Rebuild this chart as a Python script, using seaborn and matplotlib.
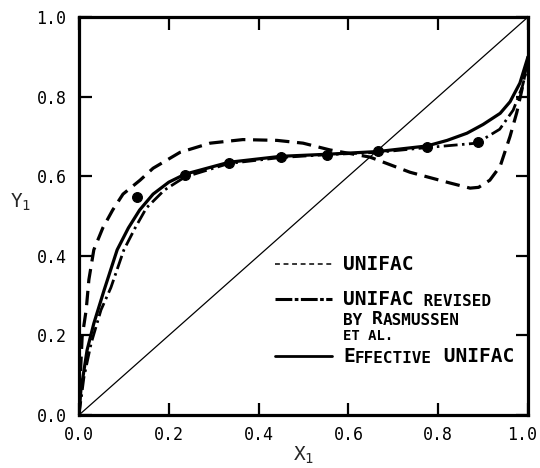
import matplotlib
matplotlib.use("Agg")
import matplotlib.pyplot as plt
from matplotlib.lines import Line2D
from matplotlib.transforms import ScaledTranslation
import seaborn as sns

# ---- data ----
diag_x = [0.0, 1.0]
diag_y = [0.0, 1.0]

unifac_x = [0.0, 0.003, 0.007, 0.016, 0.022, 0.033, 0.053, 0.075, 0.098, 0.136, 0.165,
            0.225, 0.292, 0.365, 0.441, 0.499, 0.559, 0.648, 0.737, 0.826, 0.871,
            0.89, 0.915, 0.938, 0.96, 0.975, 0.987, 1.0]
unifac_y = [0.0, 0.10, 0.196, 0.264, 0.34, 0.415, 0.47, 0.515, 0.555, 0.59, 0.62,
            0.66, 0.683, 0.692, 0.69, 0.683, 0.666, 0.648, 0.61, 0.583, 0.57,
            0.572, 0.59, 0.625, 0.70, 0.76, 0.82, 0.90]

rasm_x = [0.0, 0.011, 0.027, 0.049, 0.071, 0.10, 0.125, 0.15, 0.19, 0.236, 0.334,
          0.45, 0.55, 0.666, 0.775, 0.886, 0.937, 0.967, 0.987, 1.0]
rasm_y = [0.0, 0.095, 0.18, 0.264, 0.32, 0.415, 0.47, 0.52, 0.565, 0.598, 0.632,
          0.647, 0.654, 0.66, 0.672, 0.683, 0.718, 0.766, 0.824, 0.88]

eff_x = [0.0, 0.004, 0.018, 0.033, 0.056, 0.085, 0.11, 0.135, 0.165, 0.2, 0.236,
         0.334, 0.45, 0.55, 0.666, 0.775, 0.82, 0.864, 0.9, 0.938, 0.96, 0.982, 1.0]
eff_y = [0.0, 0.06, 0.163, 0.23, 0.314, 0.415, 0.47, 0.515, 0.555, 0.585, 0.605,
         0.635, 0.65, 0.655, 0.662, 0.676, 0.69, 0.708, 0.73, 0.758, 0.787, 0.834, 0.90]

exp_x = [0.129, 0.236, 0.334, 0.45, 0.552, 0.666, 0.775, 0.889]
exp_y = [0.548, 0.603, 0.633, 0.648, 0.653, 0.663, 0.673, 0.686]

ticks = [0.0, 0.2, 0.4, 0.6, 0.8, 1.0]
tick_labels = ["0.0", "0.2", "0.4", "0.6", "0.8", "1.0"]

# ---- style ----
sns.set_theme(style="ticks")
plt.rcParams["font.family"] = ["DejaVu Sans Mono", "DejaVu Sans"]
plt.rcParams["text.color"] = "black"

fig = plt.figure(figsize=(5.4, 4.68), dpi=100)
ax = fig.add_axes([79 / 540, 53 / 468, 449 / 540, 398 / 468])

sns.lineplot(x=diag_x, y=diag_y, ax=ax, color="black", lw=0.9,
             estimator=None, sort=False)
sns.lineplot(x=unifac_x, y=unifac_y, ax=ax, color="black", lw=2.3,
             linestyle=(0, (4.5, 2.4)), estimator=None, sort=False)
sns.lineplot(x=rasm_x, y=rasm_y, ax=ax, color="black", lw=2.0,
             linestyle=(0, (5, 1.6, 0.9, 1.6)), estimator=None, sort=False)
sns.lineplot(x=eff_x, y=eff_y, ax=ax, color="black", lw=2.3,
             estimator=None, sort=False)
sns.scatterplot(x=exp_x, y=exp_y, ax=ax, color="black", s=50,
                edgecolor="black", linewidth=0.8, zorder=5)

ax.set_xlim(0, 1)
ax.set_ylim(0, 1)
ax.set_xticks(ticks)
ax.set_xticklabels(tick_labels)
ax.set_yticks(ticks)
ax.set_yticklabels(tick_labels)
ax.tick_params(direction="in", length=9, width=1.6, top=True, right=True,
               labelsize=12, colors="black")
ax.tick_params(axis="x", pad=8)
ax.tick_params(axis="y", pad=9)
for sp in ax.spines.values():
    sp.set_linewidth(2.3)
    sp.set_color("black")
# keep the last x tick label inside the picture, as in the reference
last = ax.get_xticklabels()[-1]
last.set_transform(last.get_transform() + ScaledTranslation(-6 / 100, 0, fig.dpi_scale_trans))

ax.set_xlabel(r"$\mathregular{X_1}$", fontsize=14)
ax.xaxis.set_label_coords(0.5, -0.075)
ax.set_ylabel(r"$\mathregular{Y_1}$", fontsize=14, rotation=0, va="center", ha="center")
ax.yaxis.set_label_coords(-0.13, 0.535)

# ---- legend ----
BIG, SMALL = 14, 11.5
h1 = Line2D([], [], color="black", lw=1.1, linestyle=(0, (3.2, 2.4)))
h2 = Line2D([], [], color="black", lw=2.2, linestyle=(0, (5.5, 0.8, 1.2, 0.8)))
h3 = Line2D([], [], color="black", lw=2.0)
leg_kw = dict(frameon=False, handlelength=2.95, handletextpad=0.55, borderpad=0,
              borderaxespad=0, loc="center left",
              prop={"size": BIG, "weight": "bold"})
leg1 = ax.legend([h1], ["UNIFAC"], bbox_to_anchor=(0.4365, 0.377), **leg_kw)
ax.add_artist(leg1)
leg2 = ax.legend([h2], ["UNIFAC"], bbox_to_anchor=(0.4365, 0.289), **leg_kw)
ax.add_artist(leg2)
leg3 = ax.legend([h3], ["E"], bbox_to_anchor=(0.4365, 0.146), **leg_kw)


def chain(prev, pieces):
    for s, size in pieces:
        prev = ax.annotate(s, xy=(1, 0), xycoords=prev, va="bottom", ha="left",
                           fontsize=size, fontweight="bold", zorder=10,
                           annotation_clip=False)
    return prev


t2 = leg2.get_texts()[0]
chain(t2, [(" REVISED", SMALL)])
by = ax.annotate("BY ", xy=(0, 0), xycoords=t2, xytext=(0, -2.5),
                 textcoords="offset points", va="top", ha="left",
                 fontsize=SMALL, fontweight="bold", zorder=10, annotation_clip=False)
chain(by, [("R", BIG - 1), ("ASMUSSEN", SMALL)])
ax.annotate("ET AL.", xy=(0, 0), xycoords=by, xytext=(0, -0.5),
            textcoords="offset points", va="top", ha="left",
            fontsize=SMALL - 1.5, fontweight="bold", zorder=10, annotation_clip=False)
t3 = leg3.get_texts()[0]
chain(t3, [("FFECTIVE", SMALL), (" UNIFAC", BIG)])

fig.savefig("out.png", dpi=100)
